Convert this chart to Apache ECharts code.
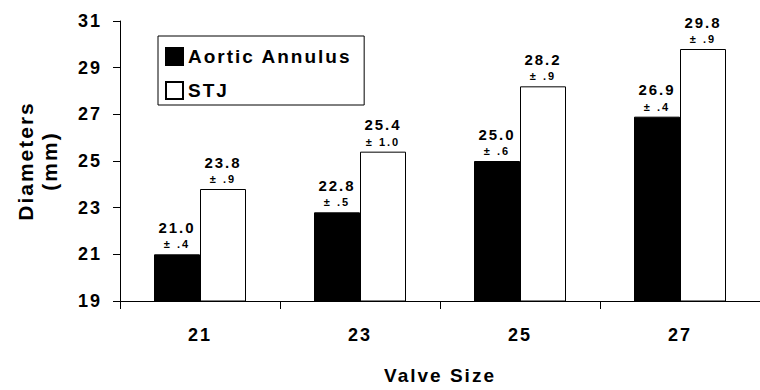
<!DOCTYPE html>
<html>
<head>
<meta charset="utf-8">
<script src="https://cdn.jsdelivr.net/npm/echarts@6/dist/echarts.min.js"></script>
<style>
  html, body { margin: 0; padding: 0; background: #fff; }
  #chart { width: 760px; height: 390px; }
  #chart text { letter-spacing: 2px; white-space: pre; }
</style>
</head>
<body>
<div id="chart"></div>
<script>
// ---- data ----
const categories = ['21', '23', '25', '27'];
const aorticAnnulus = [21.0, 22.8, 25.0, 26.9];
const stj = [23.8, 25.4, 28.2, 29.8];
const aorticSD = ['.4', '.5', '.6', '.4'];
const stjSD = ['.9', '1.0', '.9', '.9'];
const yMin = 19, yMax = 31, yInterval = 2;

const FONT = '"Liberation Sans", Arial, Helvetica, sans-serif';

function makeLabel(sdList) {
  return {
    show: true,
    position: 'top',
    distance: 3,
    formatter: p => '{v|' + Number(p.value).toFixed(1) + '}\n{pm|\u00B1\u00A0' + sdList[p.dataIndex] + '}',
    rich: {
      v: { fontFamily: FONT, fontWeight: 'bold', fontSize: 15, color: '#000', lineHeight: 20 },
      pm: { fontFamily: FONT, fontWeight: 'bold', fontSize: 11, color: '#000', lineHeight: 14 }
    }
  };
}

const chart = echarts.init(document.getElementById('chart'), null, { renderer: 'svg' });
chart.setOption({
  animation: false,
  backgroundColor: '#fff',
  grid: { left: 120, right: -10, top: 21, bottom: 83, containLabel: false },
  legend: {
    orient: 'vertical',
    left: 158,
    top: 36,
    icon: 'rect',
    itemWidth: 17,
    itemHeight: 17,
    itemGap: 15,
    padding: [11, 40, 5, 7],
    borderColor: '#000',
    borderWidth: 1,
    textStyle: { fontFamily: FONT, fontWeight: 'bold', fontSize: 19, color: '#000' },
    data: ['Aortic Annulus', 'STJ']
  },
  xAxis: {
    type: 'category',
    data: categories,
    name: 'Valve Size',
    nameLocation: 'middle',
    nameGap: 65,
    nameTextStyle: { fontFamily: FONT, fontWeight: 'bold', fontSize: 19, color: '#000' },
    axisLine: { lineStyle: { color: '#000', width: 1 } },
    axisTick: { show: true, length: 8, lineStyle: { color: '#000' } },
    axisLabel: { margin: 25, fontFamily: FONT, fontWeight: 'bold', fontSize: 18, color: '#000' },
    splitLine: { show: false }
  },
  yAxis: {
    type: 'value',
    min: yMin,
    max: yMax,
    interval: yInterval,
    name: 'Diameters\n(mm)',
    nameLocation: 'middle',
    nameGap: 59,
    nameRotate: 90,
    nameTextStyle: { fontFamily: FONT, fontWeight: 'bold', fontSize: 21, color: '#000', lineHeight: 24, align: 'center' },
    axisLine: { show: true, lineStyle: { color: '#000', width: 1 } },
    axisTick: { show: true, length: 7, lineStyle: { color: '#000' } },
    axisLabel: { margin: 18, fontFamily: FONT, fontWeight: 'bold', fontSize: 18, color: '#000' },
    splitLine: { show: false }
  },
  series: [
    {
      name: 'Aortic Annulus',
      type: 'bar',
      data: aorticAnnulus,
      barWidth: 46,
      barGap: '0%',
      itemStyle: { color: '#000', borderColor: '#000', borderWidth: 1 },
      label: makeLabel(aorticSD)
    },
    {
      name: 'STJ',
      type: 'bar',
      data: stj,
      barWidth: 46,
      barGap: '0%',
      itemStyle: { color: '#fff', borderColor: '#000', borderWidth: 1 },
      label: makeLabel(stjSD)
    }
  ]
});
</script>
</body>
</html>
